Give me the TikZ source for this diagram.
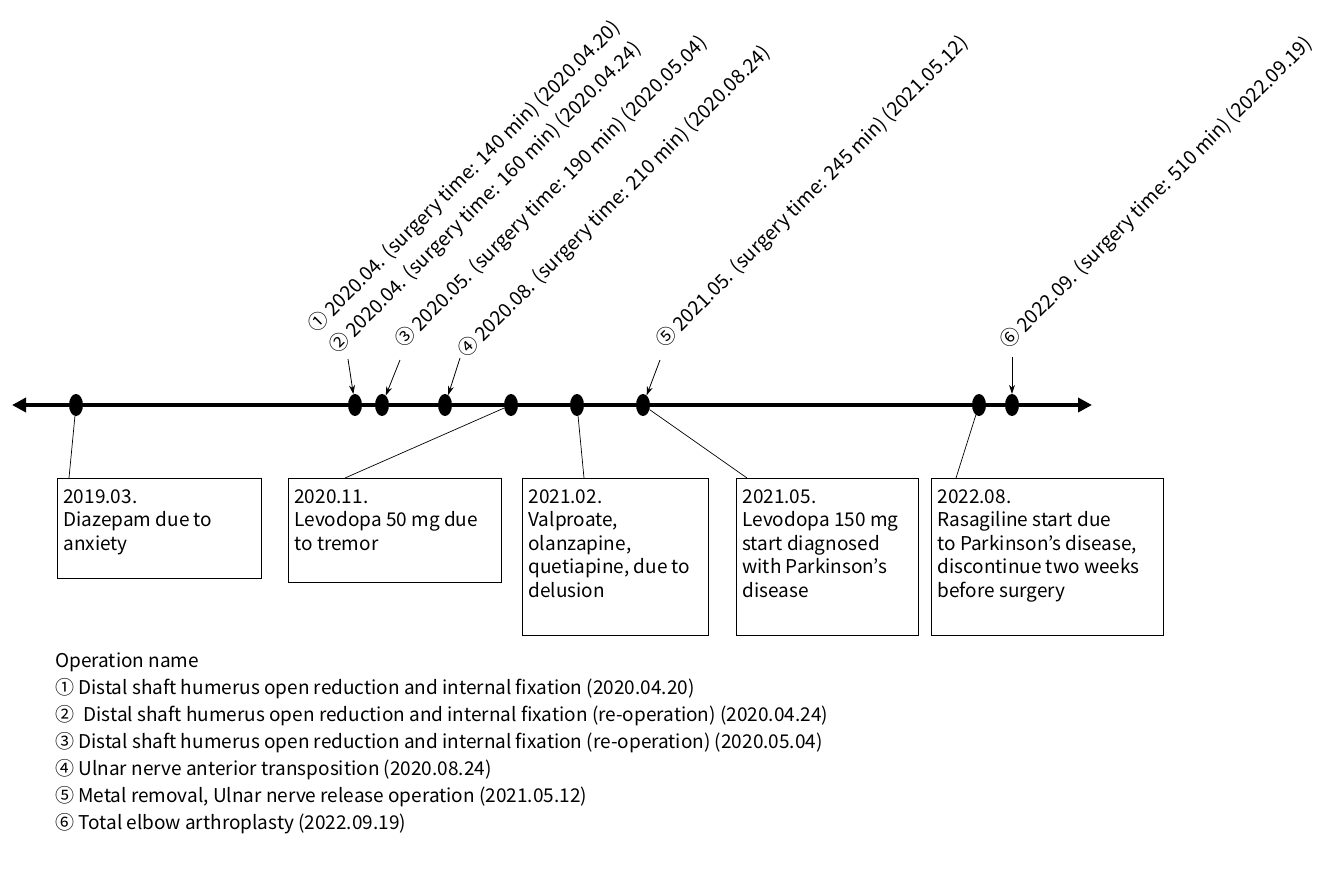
\documentclass[tikz,border=0pt]{standalone}
\usepackage{fontspec}
\setmainfont{Noto Sans CJK KR}
\usetikzlibrary{arrows.meta,shapes.geometric}
\newcommand{\bxt}[3]{\parbox[c][#2][t]{#1}{\raggedright #3}}
\begin{document}
\begin{tikzpicture}[x=1pt,y=-1pt,
  dot/.style={ellipse,fill=black,inner sep=0pt,minimum width=14pt,minimum height=22pt},
  evbox/.style={draw,line width=0.9pt,anchor=north west,inner xsep=6pt,inner ysep=11pt,font=\fontsize{19}{23.5}\selectfont},
  oplabel/.style={anchor=west,rotate=45,inner sep=0pt,font=\fontsize{19.5}{22}\selectfont},
  legend/.style={anchor=west,inner sep=0pt,font=\fontsize{19}{22}\selectfont},
  link/.style={line width=0.7pt},
  oparrow/.style={line width=0.8pt,-{Stealth[length=9pt,width=6pt]}}
]
\useasboundingbox (0,0) rectangle (1322,876);
% main axis
\coordinate (L) at (12,405);
\coordinate (R) at (1092,405);
\draw[line width=4pt,{Triangle[length=14pt,width=14pt]}-{Triangle[length=14pt,width=14pt]}] (L) -- (R);
% dots
\node[dot] (e1) at (76,405) {};
\node[dot] (e2) at (355,405) {};
\node[dot] (e3) at (382,405) {};
\node[dot] (e4) at (445,405) {};
\node[dot] (e5) at (511,405) {};
\node[dot] (e6) at (577,405) {};
\node[dot] (e7) at (643,405) {};
\node[dot] (e8) at (979,405) {};
\node[dot] (e9) at (1012,405) {};
% boxes
\node[evbox] (b1) at (57,478) {\bxt{192pt}{78pt}{2019.03.\\Diazepam due to\\anxiety}};
\node[evbox] (b2) at (288,478) {\bxt{201pt}{82pt}{2020.11.\\Levodopa 50 mg due\\to tremor}};
\node[evbox] (b3) at (522,478) {\bxt{174pt}{135pt}{2021.02.\\Valproate,\\olanzapine,\\quetiapine, due to\\delusion}};
\node[evbox] (b4) at (736,478) {\bxt{170pt}{135pt}{2021.05.\\Levodopa 150 mg\\start diagnosed\\with Parkinson's\\disease}};
\node[evbox] (b5) at (931,478) {\bxt{220pt}{135pt}{2022.08.\\Rasagiline start due\\to Parkinson's disease,\\discontinue two weeks\\before surgery}};
% links
\draw[link] (e1) -- ([xshift=12pt]b1.north west);
\draw[link] (e5) -- ([xshift=57pt]b2.north west);
\draw[link] (e6) -- ([xshift=62pt]b3.north west);
\draw[link] (e7) -- ([xshift=11pt]b4.north west);
\draw[link] (e8) -- ([xshift=25pt]b5.north west);
% operation arrows
\coordinate (s1) at (348,359);
\coordinate (s2) at (400,360);
\coordinate (s3) at (460,358);
\coordinate (s4) at (660,360);
\coordinate (s5) at (1012,357);
\draw[oparrow] (s1) -- (e2);
\draw[oparrow] (s2) -- (e3);
\draw[oparrow] (s3) -- (e4);
\draw[oparrow] (s4) -- (e7);
\draw[oparrow] (s5) -- (e9);
% rotated labels
\node[oplabel] (o1) at (312,330) {① 2020.04. (surgery time: 140 min) (2020.04.20)};
\node[oplabel] (o2) at (333,351) {② 2020.04. (surgery time: 160 min) (2020.04.24)};
\node[oplabel] (o3) at (399,345) {③ 2020.05. (surgery time: 190 min) (2020.05.04)};
\node[oplabel] (o4) at (462,355) {④ 2020.08. (surgery time: 210 min) (2020.08.24)};
\node[oplabel] (o5) at (660,345) {⑤ 2021.05. (surgery time: 245 min) (2021.05.12)};
\node[oplabel] (o6) at (1004,346) {⑥ 2022.09. (surgery time: 510 min) (2022.09.19)};
% legend
\node[legend] (lt) at (55,662) {Operation name};
\node[legend] (l1) at (55,689) {① Distal shaft humerus open reduction and internal fixation (2020.04.20)};
\node[legend] (l2) at (55,716) {②\enspace Distal shaft humerus open reduction and internal fixation (re-operation) (2020.04.24)};
\node[legend] (l3) at (55,743) {③ Distal shaft humerus open reduction and internal fixation (re-operation) (2020.05.04)};
\node[legend] (l4) at (55,770) {④ Ulnar nerve anterior transposition (2020.08.24)};
\node[legend] (l5) at (55,797) {⑤ Metal removal, Ulnar nerve release operation (2021.05.12)};
\node[legend] (l6) at (55,824) {⑥ Total elbow arthroplasty (2022.09.19)};
\end{tikzpicture}
\end{document}
